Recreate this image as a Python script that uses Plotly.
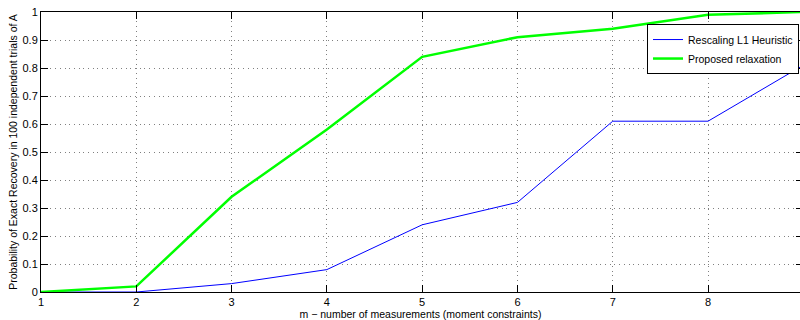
import plotly.graph_objects as go

# Number of measurements (moment constraints)
m_values = [1, 2, 3, 4, 5, 6, 7, 8, 9]

# Recovery probability over 100 independent trials
rescaling_l1 = [0.0, 0.0, 0.03, 0.08, 0.24, 0.32, 0.61, 0.61, 0.81]
proposed = [0.0, 0.02, 0.34, 0.58, 0.84, 0.91, 0.94, 0.99, 1.0]

x_ticks = [1, 2, 3, 4, 5, 6, 7, 8]
y_ticks = [0, 0.1, 0.2, 0.3, 0.4, 0.5, 0.6, 0.7, 0.8, 0.9, 1]
y_tick_text = ["0", "0.1", "0.2", "0.3", "0.4", "0.5", "0.6", "0.7", "0.8", "0.9", "1"]

FONT = "Liberation Sans, Arial, Helvetica, sans-serif"

fig = go.Figure()
fig.add_trace(go.Scatter(
    x=m_values, y=rescaling_l1, mode="lines",
    name="Rescaling L1 Heuristic",
    line=dict(color="#0000ff", width=1),
))
fig.add_trace(go.Scatter(
    x=m_values, y=proposed, mode="lines",
    name="Proposed relaxation",
    line=dict(color="#00ff00", width=2.5),
))
# invisible trace that carries the right-hand tick marks
fig.add_trace(go.Scatter(
    x=[m_values[0]], y=[proposed[0]], yaxis="y2", mode="lines",
    showlegend=False, hoverinfo="skip", line=dict(width=0),
))

fig.update_layout(
    width=800, height=320,
    margin=dict(l=41, r=0, t=12, b=28),
    paper_bgcolor="white", plot_bgcolor="white",
    font=dict(family=FONT, size=11, color="black"),
    showlegend=True,
    legend=dict(
        x=0.9987, y=0.957, xanchor="right", yanchor="top",
        bgcolor="white", bordercolor="black", borderwidth=1,
        font=dict(family=FONT, size=10.5, color="black"),
    ),
    xaxis=dict(
        range=[1, 8.965],
        tickvals=x_ticks,
        ticks="inside", ticklen=7, tickcolor="black",
        showline=True, linecolor="black", linewidth=1, mirror="ticks",
        showgrid=True, gridcolor="#808080", gridwidth=1, griddash="1px,3.7px",
        zeroline=False,
        tickfont=dict(family=FONT, size=11, color="black"),
        title=dict(text="m − number of measurements (moment constraints)",
                   font=dict(family=FONT, size=10.5, color="black"), standoff=4),
    ),
    yaxis=dict(
        range=[0, 1],
        tickvals=y_ticks, ticktext=y_tick_text,
        ticks="inside", ticklen=7, tickcolor="black",
        showline=True, linecolor="black", linewidth=1, mirror=False,
        showgrid=True, gridcolor="#808080", gridwidth=1, griddash="1px,3.7px",
        zeroline=False,
        tickfont=dict(family=FONT, size=11, color="black"),
        title=dict(text="Probability of Exact Recovery in 100 independent trials of A",
                   font=dict(family=FONT, size=10.5, color="black"), standoff=2),
    ),
    yaxis2=dict(
        overlaying="y", side="right", matches="y",
        tickvals=y_ticks, showticklabels=False,
        ticks="inside", ticklen=4, tickcolor="black",
        showline=False, showgrid=False, zeroline=False,
    ),
)

fig.write_html("out.html")
